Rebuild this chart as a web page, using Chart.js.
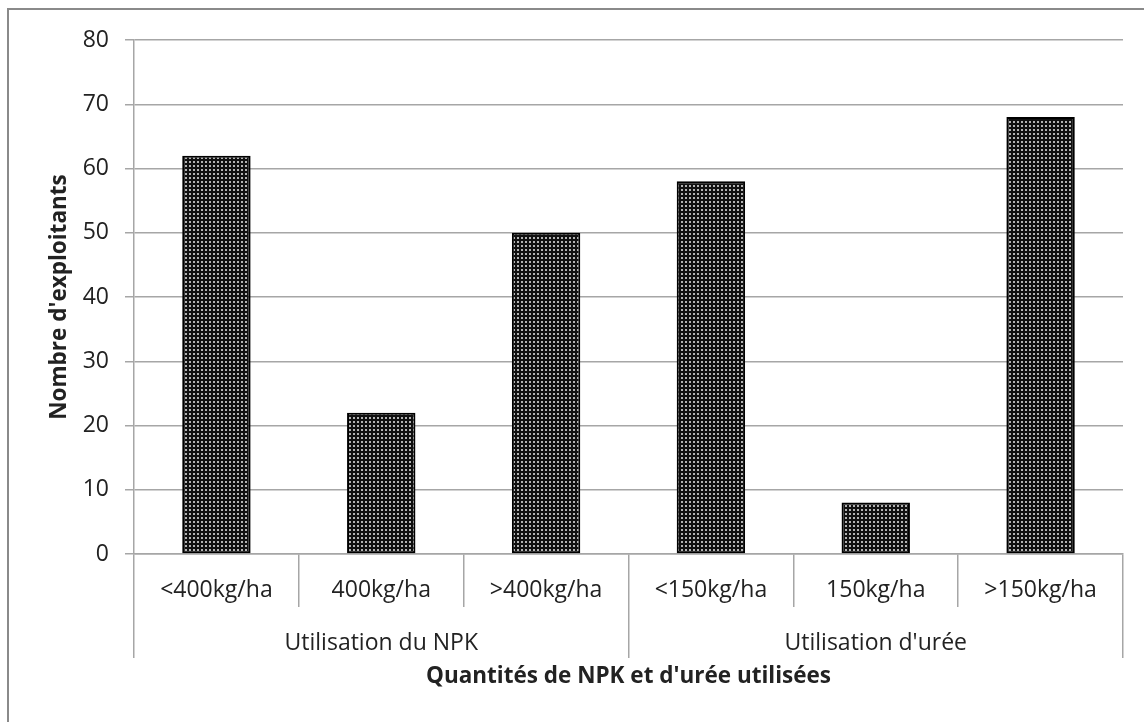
<!DOCTYPE html>
<html>
<head>
<meta charset="utf-8">
<script src="https://cdn.jsdelivr.net/npm/chart.js@4.4.1/dist/chart.umd.min.js"></script>
<style>
  html, body { margin: 0; padding: 0; background: #fff; overflow: hidden; }
  #wrap { position: relative; width: 1144px; height: 722px; }
  #frame { position: absolute; left: 7px; top: 8px; width: 1200px; height: 800px; border: 2px solid #8a8a8a; box-sizing: border-box; }
  #chart { position: absolute; left: 0; top: 0; }
</style>
</head>
<body>
<div id="wrap">
  <div id="frame"></div>
  <canvas id="chart" width="1144" height="722"></canvas>
</div>
<script>
'use strict';

// data
const categories = ['<400kg/ha', '400kg/ha', '>400kg/ha', '<150kg/ha', '150kg/ha', '>150kg/ha'];
const groups = ['Utilisation du NPK', "Utilisation d'urée"];
const exploitants = [62, 22, 50, 58, 8, 68];
const yMin = 0;
const yMax = 80;
const yStep = 10;

const yTitle = "Nombre d'exploitants";
const xTitle = "Quantités de NPK et d'urée utilisées";

const gridColor = '#a6a6a6';
const textColor = '#222';

Chart.defaults.font.family = "'Open Sans', 'Noto Sans', sans-serif";
Chart.defaults.color = textColor;

// dotted dark fill like the excel pattern
function makePattern() {
  let tile = document.createElement('canvas');
  tile.width = 4;
  tile.height = 4;
  let c = tile.getContext('2d');
  c.fillStyle = '#111';
  c.fillRect(0, 0, 4, 4);
  c.fillStyle = '#b4b4b4';
  c.fillRect(1, 1, 2, 2);
  return c.createPattern(tile, 'repeat');
}

let ctx = document.getElementById('chart').getContext('2d');
let pattern = makePattern();

let myChart = new Chart(ctx, {
  type: 'bar',
  data: {
    labels: categories,
    datasets: [{
      label: yTitle,
      data: exploitants,
      backgroundColor: pattern,
      borderColor: '#000',
      borderWidth: 2,
      borderSkipped: false,
      categoryPercentage: 1,
      barPercentage: 0.415
    }]
  },
  options: {
    responsive: false,
    animation: false,
    layout: {
      padding: { top: 40, right: 21, bottom: 22, left: 0 }
    },
    plugins: {
      legend: { display: false },
      tooltip: { enabled: false }
    },
    scales: {
      y: {
        min: yMin,
        max: yMax,
        ticks: {
          stepSize: yStep,
          padding: 16,
          font: { size: 23 }
        },
        grid: {
          color: gridColor,
          lineWidth: 1.5,
          tickLength: 9
        },
        border: { color: gridColor, width: 1.5 },
        title: {
          display: true,
          text: yTitle,
          font: { size: 22.5, weight: 'bold' },
          padding: { top: 46, bottom: 0 }
        },
        afterFit: (scale) => { scale.width = 134; }
      },
      x: {
        weight: 0,
        offset: true,
        ticks: {
          padding: -30,
          maxRotation: 0,
          autoSkip: false,
          font: { size: 23 }
        },
        grid: {
          offset: true,
          drawOnChartArea: false,
          color: gridColor,
          lineWidth: 1.5,
          tickLength: 53
        },
        border: { color: gridColor, width: 1.5 },
        afterFit: (scale) => { scale.height = 53; }
      },
      x2: {
        type: 'category',
        labels: groups,
        position: 'bottom',
        weight: 1,
        offset: true,
        ticks: {
          padding: -28,
          maxRotation: 0,
          autoSkip: false,
          font: { size: 23 }
        },
        grid: {
          offset: true,
          drawOnChartArea: false,
          color: gridColor,
          lineWidth: 1.5,
          tickLength: 51
        },
        border: { display: false },
        title: {
          display: true,
          text: xTitle,
          font: { size: 22.5, weight: 'bold' },
          padding: { top: 0, bottom: 10 }
        },
        afterFit: (scale) => { scale.height = 93; }
      }
    }
  }
});
</script>
</body>
</html>
